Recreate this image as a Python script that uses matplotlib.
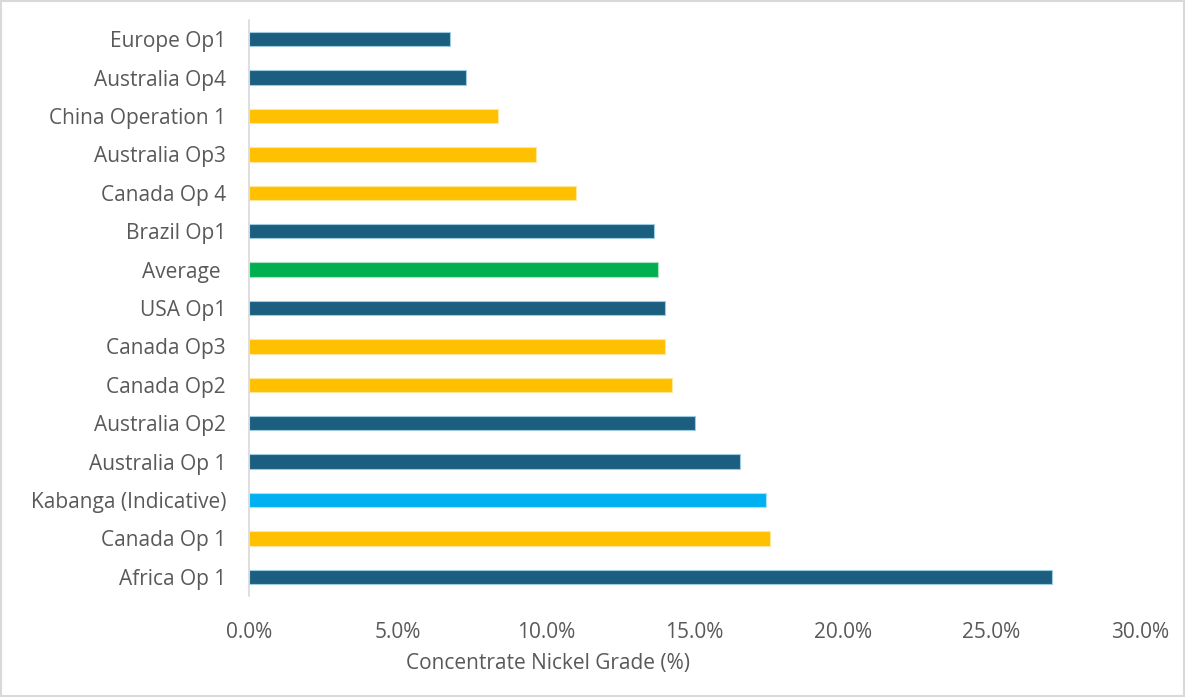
import matplotlib.pyplot as plt
from matplotlib.ticker import FuncFormatter, MultipleLocator
from matplotlib.patches import Rectangle

# categories top to bottom
operations = ["Europe Op1", "Australia Op4", "China Operation 1", "Australia Op3",
              "Canada Op 4", "Brazil Op1", "Average ", "USA Op1", "Canada Op3",
              "Canada Op2", "Australia Op2", "Australia Op 1", "Kabanga (Indicative)",
              "Canada Op 1", "Africa Op 1"]
grades = [6.78, 7.29, 8.39, 9.66, 11.02, 13.63, 13.76, 14.02, 14.02,
          14.23, 15.02, 16.53, 17.41, 17.53, 27.03]
groups = ["other", "other", "yellow", "yellow", "yellow", "other", "avg", "other", "yellow",
          "yellow", "other", "other", "kabanga", "yellow", "other"]

colors = {"other": "#1B5E80", "yellow": "#FFC000", "avg": "#00B050", "kabanga": "#00B0F0"}
edges = {"other": "#9DCCE0", "yellow": "#FFE699", "avg": "#A9E2C0", "kabanga": "#A6E2F8"}

plt.rcParams['font.family'] = ['Open Sans', 'DejaVu Sans']
text_color = "#595959"
fsize = 15

fig = plt.figure(figsize=(11.86, 6.97), dpi=100)
ax = fig.add_axes([249 / 1186, 1 - 596 / 697, (1140 - 249) / 1186, (596 - 20) / 697])

pos = list(range(len(operations)))
ax.barh(pos, grades, height=0.37,
        color=[colors[g] for g in groups],
        edgecolor=[edges[g] for g in groups], linewidth=0.8)

ax.set_ylim(len(operations) - 0.5, -0.5)
ax.set_xlim(0, 30)
ax.set_yticks(pos)
ax.set_yticklabels(operations)
ax.xaxis.set_major_locator(MultipleLocator(5))
ax.xaxis.set_major_formatter(FuncFormatter(lambda v, p: f"{v:.1f}%"))
ax.tick_params(axis='both', length=0, labelsize=fsize, colors=text_color)
ax.tick_params(axis='y', pad=16.5)
ax.tick_params(axis='x', pad=19)

for s in ['top', 'right', 'bottom']:
    ax.spines[s].set_visible(False)
ax.spines['left'].set_color("#D9D9D9")
ax.spines['left'].set_linewidth(1.2)

ax.set_xlabel("Concentrate Nickel Grade (%)", fontsize=fsize, color=text_color)
ax.xaxis.set_label_coords((548 - 249) / 891, -(663 - 596) / 576, transform=ax.transAxes)
ax.xaxis.label.set_va('center')

# outer border
fig.patches.append(Rectangle((0.001, 0.001), 0.997, 0.997, transform=fig.transFigure,
                             fill=False, edgecolor="#D9D9D9", linewidth=1.5))

plt.savefig("out.png", dpi=100)
